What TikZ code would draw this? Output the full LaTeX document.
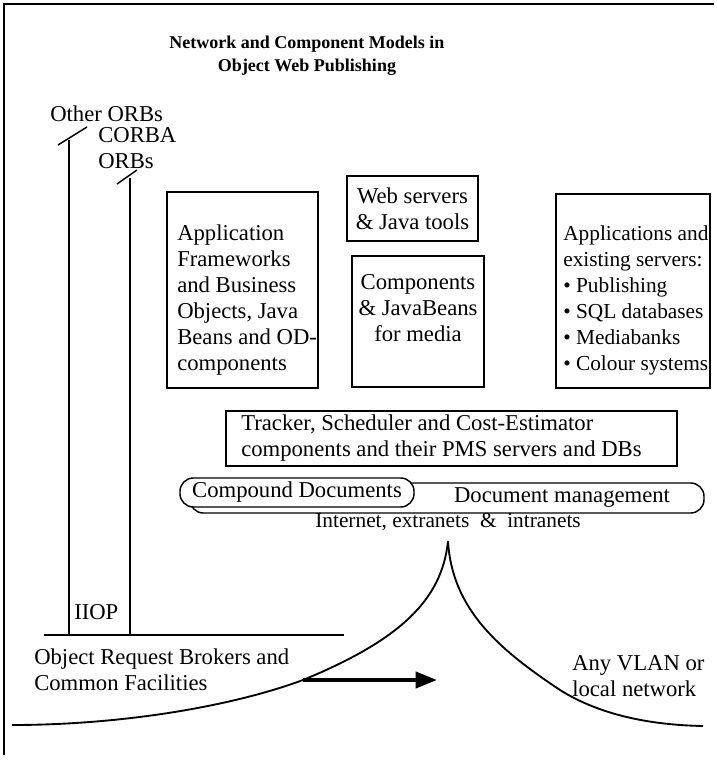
\documentclass[tikz,border=0pt]{standalone}
\usepackage{fontspec}
\setmainfont{Liberation Serif}
\usetikzlibrary{arrows.meta,fit}

\tikzset{
  txt/.style={inner sep=0pt, font=\fontsize{17pt}{19.5pt}\selectfont},
  smalltxt/.style={inner sep=0pt, font=\fontsize{16pt}{19.5pt}\selectfont},
  titletxt/.style={inner sep=0pt, align=center, font=\fontsize{13.5pt}{17pt}\selectfont\bfseries},
  box/.style={draw, line width=1.1pt, inner sep=0pt},
  rbox/.style={draw, line width=1.1pt, inner sep=0pt, rounded corners=10pt},
  wire/.style={line width=1.1pt},
  netcurve/.style={line width=1.4pt},
  flow/.style={line width=3pt, -{Triangle[length=16pt, width=12pt]}}
}

\begin{document}
\begin{tikzpicture}[x=0.75pt, y=-0.75pt]
\useasboundingbox (0,0) rectangle (716,762);

% outer frame (left and top sides)
\draw[line width=1.2pt] (4,755) -- (4,4) -- (714,4);

% title
\node[titletxt] (title) at (307,56) {Network and Component Models in\\Object Web Publishing};

% ORB columns
\node[txt, anchor=west] (other) at (50,114) {Other ORBs};
\node[txt, anchor=west, align=left] (corba) at (98,148) {CORBA\\ORBs};

\coordinate (top1) at (69,140);
\coordinate (top2) at (130,178);
\coordinate (bot1) at (69,635);
\coordinate (bot2) at (130,635);
\coordinate (tickA1) at (58,145);
\coordinate (tickA2) at (87,127);
\coordinate (tickB1) at (117,184);
\coordinate (tickB2) at (137,170);
\draw[wire] (top1) -- (bot1);
\draw[wire] (top2) -- (bot2);
\draw[wire] (tickA1) -- (tickA2);
\draw[wire] (tickB1) -- (tickB2);

\node[txt, anchor=west] (iiop) at (74,612) {IIOP};
\coordinate (baseL) at (44,635);
\coordinate (baseR) at (344,635);
\draw[wire] (baseL) -- (baseR);
\node[txt, anchor=west, align=left] (orb) at (34,670) {Object Request Brokers and\\Common Facilities};

% component boxes
\node[box, fit={(167,192) (318,388)}] (app) {};
\node[txt, anchor=west, align=left] (apptxt) at (177,300)
  {Application\\Frameworks\\and Business\\Objects, Java\\Beans and OD-\\components};

\node[box, fit={(347,176) (478,241)}] (web) {};
\node[txt, align=center] (webtxt) at (412.5,208.5) {Web servers\\\& Java tools};

\node[box, fit={(352,256) (484,387)}] (comp) {};
\node[txt, align=center] (comptxt) at (418,308) {Components\\\& JavaBeans\\for media};

\node[box, fit={(556,194) (710,388)}] (apps) {};
\node[smalltxt, anchor=west, align=left] (appstxt) at (563,300)
  {Applications and\\existing servers:\\\textbullet\ Publishing\\\textbullet\ SQL databases\\\textbullet\ Mediabanks\\\textbullet\ Colour systems};

\node[box, fit={(226,411) (677,466)}] (pms) {};
\node[txt, anchor=west, align=left] (pmstxt) at (241,438.5)
  {Tracker, Scheduler and Cost-Estimator\\components and their PMS servers and DBs};

% document layer
\node[rbox, fit={(190,483) (704,513)}] (docmgmt) {};
\node[rbox, fill=white, fit={(180,478) (414,507)}] (compound) {};
\node[txt] (compoundtxt) at (297,492) {Compound Documents};
\node[txt] (docmgmttxt) at (562,498) {Document management};
\node[smalltxt] (nets) at (448,522) {Internet, extranets\enspace\&\enspace intranets};

% network curve
\coordinate (cusp) at (448,541);
\coordinate (arrowstart) at (303,680);
\coordinate (leftend) at (12,725);
\coordinate (rightmid) at (560,690);
\coordinate (rightend) at (703,726);
\draw[netcurve] (leftend) .. controls (120,725) and (230,707) .. (arrowstart)
  .. controls (400,640) and (442,600) .. (cusp);
\draw[netcurve] (cusp) .. controls (452,610) and (500,650) .. (rightmid)
  .. controls (600,715) and (650,725) .. (rightend);

\coordinate (arrowend) at (437,680);
\draw[flow] (arrowstart) -- (arrowend);

\node[txt, anchor=west, align=left] (vlan) at (572,676) {Any VLAN or\\local network};
\end{tikzpicture}
\end{document}
